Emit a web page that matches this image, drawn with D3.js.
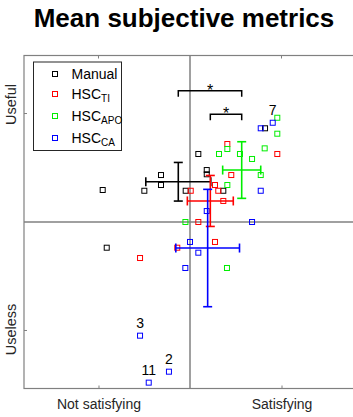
<!DOCTYPE html>
<html>
<head>
<meta charset="utf-8">
<script src="https://cdn.jsdelivr.net/npm/d3@7"></script>
<style>
  body { margin: 0; background: #fff; }
  text { font-family: "Liberation Sans", Arial, sans-serif; }
</style>
</head>
<body>
<script>
// participant scores (x = satisfaction, y = usefulness)
const manualX = [-0.954, -0.499, -0.317, -0.317, -0.047, 0.091, 0.183, 0.183, 0.364, 0.820, -0.910];
const manualY = [0.295, 0.288, 0.433, 0.341, 0.288, 0.627, 0.479, 0.440, 0.288, 0.864, -0.237];
const tiX = [0.408, 0.451, 0.273, 0.309, 0.008, 0.364, 0.091, 0.273, -0.139, -0.546, 0.954];
const tiY = [0.719, 0.433, 0.341, 0.288, 0.288, 0.194, 0.0, -0.184, -0.237, -0.332, 0.627];
const apoX = [0.408, 0.317, 0.546, 0.678, 0.408, -0.05, 0.773, 0.954, 0.954, 0.816, 0.404];
const apoY = [0.673, 0.627, 0.627, 0.581, 0.341, 0.0, 0.433, 0.961, 0.814, 0.679, -0.424];
const caX = [0.904, 0.773, 0.773, 0.678, 0.183, 0.0, 0.091, -0.051, -0.546, -0.230, -0.451];
const caY = [0.915, 0.864, 0.288, 0.0, 0.101, -0.184, -0.283, -0.424, -1.048, -1.380, -1.481];

// means and error half-widths per group
const meanX = [-0.128, 0.222, 0.565, 0.193];
const meanY = [0.371, 0.194, 0.479, -0.240];
const errX = [0.355, 0.251, 0.208, 0.348];
const errY = [0.178, 0.235, 0.261, 0.541];

const groupNames = [["Manual", ""], ["HSC", "TI"], ["HSC", "APO"], ["HSC", "CA"]];
const colors = ["#000000", "#ff0000", "#00ee00", "#0000ff"];

// labelled participants in the HSC_CA group: [point index, label]
const caLabels = [[0, "7"], [8, "3"], [9, "2"], [10, "11"]];

// significant pairs (group indices)
const sigPairs = [[0, 2], [1, 2]];

const xTicks = [-1, 1], xTickLabels = ["Not satisfying", "Satisfying"];
const yTicks = [1, -1], yTickLabels = ["Useful", "Useless"];

const w = 353, h = 417;
const svg = d3.select("body").append("svg").attr("width", w).attr("height", h);

const x = d3.scaleLinear().domain([-1.814, 1.814]).range([24, 356]);
const y = d3.scaleLinear().domain([-1.535, 1.535]).range([388.5, 55.5]);

const axisColor = "#808080";
const textColor = "#262626";

svg.append("text")
  .attr("x", 184).attr("y", 27)
  .attr("text-anchor", "middle")
  .style("font-size", "26px").style("font-weight", "bold")
  .text("Mean subjective metrics");

// box
svg.append("rect")
  .attr("x", x.range()[0]).attr("y", y.range()[1])
  .attr("width", x.range()[1] - x.range()[0])
  .attr("height", y.range()[0] - y.range()[1])
  .attr("fill", "#fff").attr("stroke", axisColor).attr("stroke-width", 1.2);

// x ticks (bottom + top), labels
const xAxis = d3.axisBottom(x).tickValues(xTicks)
  .tickFormat((d, i) => xTickLabels[i]).tickSize(-3).tickPadding(11);
const gx = svg.append("g").attr("transform", "translate(0," + y.range()[0] + ")").call(xAxis);
gx.select(".domain").remove();
gx.selectAll("line").attr("stroke", axisColor);
gx.selectAll("text").style("font-size", "14px").attr("fill", textColor);

svg.append("g").selectAll("line").data(xTicks).enter().append("line")
  .attr("x1", d => x(d)).attr("x2", d => x(d))
  .attr("y1", y.range()[1]).attr("y2", y.range()[1] + 3)
  .attr("stroke", axisColor);

// y ticks, rotated labels
svg.append("g").selectAll("line").data(yTicks).enter().append("line")
  .attr("x1", x.range()[0]).attr("x2", x.range()[0] + 3)
  .attr("y1", d => y(d)).attr("y2", d => y(d))
  .attr("stroke", axisColor);

svg.append("g").selectAll("text").data(yTicks).enter().append("text")
  .attr("transform", (d, i) => "translate(16," + (y(d) - (i === 0 ? 9 : 1)) + ") rotate(-90)")
  .attr("text-anchor", "middle")
  .attr("fill", textColor)
  .style("font-size", "14.5px")
  .text((d, i) => yTickLabels[i]);

// center cross
svg.append("line")
  .attr("x1", x(0)).attr("x2", x(0)).attr("y1", y.range()[1]).attr("y2", y.range()[0])
  .attr("stroke", axisColor).attr("stroke-width", 1.5);
svg.append("line")
  .attr("x1", x.range()[0]).attr("x2", x.range()[1]).attr("y1", y(0)).attr("y2", y(0))
  .attr("stroke", axisColor).attr("stroke-width", 1.5);

// points
const groups = [[manualX, manualY], [tiX, tiY], [apoX, apoY], [caX, caY]];
const ms = 5;
groups.forEach((g, gi) => {
  svg.append("g").selectAll("rect").data(d3.range(g[0].length)).enter().append("rect")
    .attr("x", i => x(g[0][i]) - ms / 2)
    .attr("y", i => y(g[1][i]) - ms / 2)
    .attr("width", ms).attr("height", ms)
    .attr("fill", "none")
    .attr("stroke", colors[gi]).attr("stroke-width", 1);
});

// labels on some blue points
svg.append("g").selectAll("text").data(caLabels).enter().append("text")
  .attr("x", d => x(caX[d[0]]))
  .attr("y", d => y(caY[d[0]]) - 7.5)
  .attr("text-anchor", "middle")
  .style("font-size", "14px")
  .attr("fill", "#000")
  .text(d => d[1]);

// error bars
const cap = 4.5;
meanX.forEach((mx, gi) => {
  const eb = svg.append("g").attr("stroke", colors[gi]).attr("stroke-width", 1.6);
  const cx = x(mx), cy = y(meanY[gi]);
  const x0 = x(mx - errX[gi]), x1 = x(mx + errX[gi]);
  const y0 = y(meanY[gi] + errY[gi]), y1 = y(meanY[gi] - errY[gi]);
  eb.append("line").attr("x1", x0).attr("x2", x1).attr("y1", cy).attr("y2", cy);
  eb.append("line").attr("x1", x0).attr("x2", x0).attr("y1", cy - cap).attr("y2", cy + cap);
  eb.append("line").attr("x1", x1).attr("x2", x1).attr("y1", cy - cap).attr("y2", cy + cap);
  eb.append("line").attr("x1", cx).attr("x2", cx).attr("y1", y0).attr("y2", y1);
  eb.append("line").attr("x1", cx - cap).attr("x2", cx + cap).attr("y1", y0).attr("y2", y0);
  eb.append("line").attr("x1", cx - cap).attr("x2", cx + cap).attr("y1", y1).attr("y2", y1);
});

// significance brackets
const bracketY = [90.7, 114.3];
sigPairs.forEach((p, i) => {
  const a = x(meanX[p[0]]), b = x(meanX[p[1]]), by = bracketY[i];
  svg.append("path")
    .attr("d", "M" + a + "," + (by + 6) + "V" + by + "H" + b + "V" + (by + 6))
    .attr("fill", "none").attr("stroke", "#000").attr("stroke-width", 1.5);
  svg.append("text")
    .attr("x", (a + b) / 2).attr("y", by + 5)
    .attr("text-anchor", "middle")
    .style("font-size", "16px")
    .text("*");
});

// legend
const legend = svg.append("g");
legend.append("rect")
  .attr("x", 33.5).attr("y", 62).attr("width", 88).attr("height", 88.5)
  .attr("fill", "#fff").attr("stroke", textColor).attr("stroke-width", 1);
const rowY = [74, 94, 116, 138];
groupNames.forEach((n, i) => {
  legend.append("rect")
    .attr("x", 55 - ms / 2).attr("y", rowY[i] - ms / 2)
    .attr("width", ms).attr("height", ms)
    .attr("fill", "none").attr("stroke", colors[i]);
  const t = legend.append("text")
    .attr("x", 71.5).attr("y", rowY[i] + (n[1] ? 4.5 : 5))
    .style("font-size", "14px").attr("fill", "#000");
  t.append("tspan").text(n[0]);
  if (n[1]) t.append("tspan").attr("dy", 3.5).style("font-size", "10px").text(n[1]);
});
</script>
</body>
</html>
